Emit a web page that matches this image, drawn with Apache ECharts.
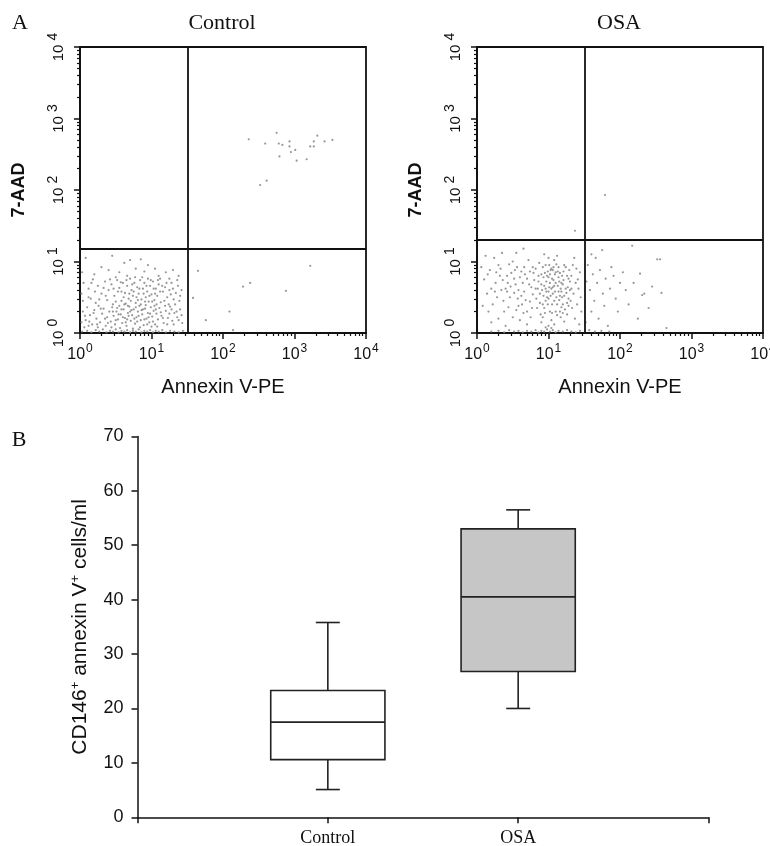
<!DOCTYPE html>
<html><head><meta charset="utf-8">
<script src="https://cdn.jsdelivr.net/npm/echarts@6/dist/echarts.min.js"></script>
<style>html,body{margin:0;padding:0;background:#fff}#c{width:770px;height:846px}</style>
</head><body><div id="c"></div>
<script>
// ---------- Panel A: flow cytometry (values in log10 decades) ----------
const panelTitles = ['Control', 'OSA'];
const xAxisTitle = 'Annexin V-PE';
const yAxisTitle = '7-AAD';
const decadeTicks = [0, 1, 2, 3, 4];
const minorMultipliers = [2, 3, 4, 5, 6, 7, 8, 9];
const controlGate = [1.50, 1.175];   // [annexin gate, 7-AAD gate] in log10
const osaGate = [1.505, 1.31];

const controlPoints = [
// lower-left upper part
[0.08,1.05],[0.45,1.08],[0.62,0.98],[0.70,1.02],[0.85,1.03],[0.95,0.95],[1.05,0.90],[0.30,0.92],[0.40,0.88],[0.55,0.85],
[0.78,0.90],[0.90,0.86],[1.20,0.85],[1.30,0.88],[1.38,0.80],[0.20,0.82],[0.66,0.80],[1.10,0.80],[0.50,0.78],[1.25,0.76],
// lower-left middle
[0.05,0.70],[0.12,0.62],[0.18,0.75],[0.25,0.66],[0.30,0.55],[0.35,0.72],[0.40,0.60],[0.44,0.68],[0.48,0.52],[0.52,0.74],
[0.55,0.63],[0.58,0.45],[0.60,0.70],[0.63,0.56],[0.66,0.66],[0.68,0.48],[0.70,0.76],[0.72,0.60],[0.74,0.52],[0.76,0.70],
[0.78,0.42],[0.80,0.64],[0.82,0.55],[0.84,0.74],[0.86,0.47],[0.88,0.62],[0.90,0.70],[0.92,0.50],[0.94,0.58],[0.96,0.44],
[0.98,0.66],[1.00,0.54],[1.02,0.72],[1.04,0.46],[1.06,0.62],[1.08,0.52],[1.10,0.68],[1.13,0.43],[1.16,0.58],[1.19,0.64],
[1.22,0.50],[1.25,0.60],[1.28,0.70],[1.31,0.47],[1.34,0.56],[1.37,0.66],[1.40,0.52],[0.15,0.48],[0.22,0.42],[0.38,0.46],
[0.46,0.40],[0.64,0.41],[0.87,0.78],[1.12,0.76],[0.58,0.58],[0.73,0.68],[0.95,0.76],[1.03,0.62],[0.81,0.46],[0.69,0.55],
[0.12,0.50],[0.16,0.70],[0.21,0.58],[0.27,0.47],[0.33,0.63],[0.36,0.52],[0.42,0.75],[0.47,0.62],[0.50,0.44],[0.53,0.58],
[0.57,0.71],[0.61,0.50],[0.65,0.74],[0.67,0.38],[0.71,0.45],[0.75,0.58],[0.77,0.78],[0.79,0.50],[0.83,0.62],[0.85,0.40],
[0.89,0.55],[0.91,0.44],[0.93,0.66],[0.97,0.52],[0.99,0.74],[1.01,0.44],[1.05,0.55],[1.07,0.40],[1.09,0.74],[1.12,0.58],
[1.15,0.66],[1.18,0.45],[1.21,0.70],[1.24,0.40],[1.27,0.54],[1.30,0.62],[1.33,0.40],[1.36,0.74],[1.39,0.45],[1.42,0.60],
// lower-left lower part
[0.04,0.30],[0.08,0.18],[0.10,0.36],[0.14,0.25],[0.17,0.12],[0.20,0.32],[0.23,0.20],[0.26,0.38],[0.28,0.15],[0.31,0.27],
[0.33,0.34],[0.36,0.10],[0.38,0.22],[0.41,0.30],[0.43,0.16],[0.45,0.36],[0.47,0.24],[0.49,0.12],[0.51,0.30],[0.53,0.19],
[0.55,0.38],[0.57,0.26],[0.59,0.14],[0.61,0.33],[0.63,0.21],[0.65,0.10],[0.67,0.28],[0.69,0.37],[0.71,0.17],[0.73,0.25],
[0.75,0.33],[0.77,0.13],[0.79,0.22],[0.81,0.30],[0.83,0.38],[0.85,0.18],[0.87,0.26],[0.89,0.11],[0.91,0.34],[0.93,0.20],
[0.95,0.28],[0.97,0.15],[0.99,0.36],[1.01,0.23],[1.03,0.31],[1.05,0.12],[1.07,0.27],[1.09,0.19],[1.11,0.35],[1.14,0.24],
[1.17,0.14],[1.20,0.31],[1.23,0.21],[1.26,0.37],[1.29,0.17],[1.32,0.28],[1.36,0.22],[1.40,0.33],[1.43,0.14],[0.62,0.40],
[0.84,0.08],[0.92,0.39],[1.00,0.09],[0.74,0.06],[0.56,0.07],[0.44,0.08],[0.70,0.30],[0.88,0.33],[0.96,0.22],[0.80,0.16],
[1.04,0.38],[0.66,0.19],[0.52,0.35],
[0.07,0.24],[0.13,0.16],[0.19,0.28],[0.24,0.12],[0.29,0.34],[0.35,0.20],[0.39,0.14],[0.46,0.30],[0.50,0.18],[0.54,0.26],
[0.58,0.33],[0.60,0.22],[0.64,0.15],[0.68,0.24],[0.72,0.32],[0.76,0.20],[0.78,0.36],[0.82,0.24],[0.86,0.32],[0.90,0.19],
[0.94,0.12],[0.98,0.27],[1.02,0.16],[1.06,0.33],[1.08,0.09],[1.13,0.29],[1.16,0.21],[1.19,0.38],[1.22,0.12],[1.25,0.27],
[1.28,0.33],[1.31,0.12],[1.35,0.30],[1.38,0.18],[1.42,0.25],
// bottom band
[0.03,0.02],[0.10,0.03],[0.16,0.01],[0.22,0.04],[0.27,0.02],[0.32,0.05],[0.37,0.01],[0.42,0.03],[0.46,0.02],[0.50,0.05],
[0.54,0.01],[0.58,0.03],[0.62,0.02],[0.66,0.04],[0.70,0.01],[0.74,0.03],[0.78,0.02],[0.82,0.05],[0.86,0.01],[0.90,0.03],
[0.94,0.02],[0.98,0.04],[1.02,0.01],[1.06,0.03],[1.10,0.02],[1.15,0.04],[1.20,0.01],[1.26,0.03],[1.32,0.02],[1.38,0.01],
[1.44,0.03],[0.06,0.08],[0.12,0.10],[0.25,0.08],[0.04,0.45],[0.02,0.15],[0.03,0.85],[0.02,0.55],
// lower-right
[1.65,0.87],[1.58,0.49],[1.76,0.18],[2.28,0.65],[2.38,0.70],[2.88,0.59],[3.22,0.94],[2.09,0.30],[2.14,0.04],
// upper-right
[2.36,2.71],[2.59,2.65],[2.75,2.80],[2.78,2.65],[2.83,2.63],[2.93,2.68],[2.93,2.61],[2.95,2.53],[3.01,2.56],[2.79,2.47],
[3.03,2.41],[3.17,2.43],[3.22,2.61],[3.27,2.61],[3.27,2.68],[3.32,2.76],[3.42,2.68],[3.53,2.70],[2.52,2.07],[2.61,2.13]
];

const osaPoints = [
// dense centre of lower-left
[0.82,0.90],[0.86,0.72],[0.88,0.55],[0.90,0.82],[0.92,0.40],[0.94,0.66],[0.96,0.95],[0.98,0.50],[1.00,0.78],[1.02,0.30],
[1.04,0.62],[1.06,0.88],[1.08,0.45],[1.10,0.70],[1.12,0.25],[1.14,0.58],[1.16,0.84],[1.18,0.36],[1.20,0.68],[1.22,0.52],
[1.24,0.92],[1.26,0.42],[1.28,0.76],[1.30,0.60],[0.84,0.35],[0.87,0.98],[0.91,0.60],[0.95,0.28],[0.99,0.86],[1.03,0.52],
[1.07,0.74],[1.11,0.96],[1.15,0.46],[1.19,0.80],[1.23,0.33],[1.27,0.64],[0.85,0.62],[0.89,0.26],[0.93,0.78],[0.97,0.58],
[1.01,0.95],[1.05,0.40],[1.09,0.82],[1.13,0.66],[1.17,0.22],[1.21,0.86],[1.25,0.56],[1.29,0.88],[0.83,0.48],[0.97,0.72],
[1.01,0.64],[1.05,0.76],[1.09,0.58],[1.13,0.86],[1.03,0.88],[0.95,0.84],[1.07,0.92],[1.11,0.50],[0.99,0.40],[1.17,0.62],
[1.21,0.74],[0.93,0.52],[1.15,0.72],[1.19,0.50],[1.00,1.05],[1.08,1.02],[0.94,1.10],[1.12,1.08],[1.04,0.18],[1.16,0.30],
[0.90,0.15],[1.08,0.12],[1.22,0.16],[1.26,0.26],
[0.86,0.80],[0.88,0.42],[0.90,0.68],[0.92,0.92],[0.94,0.35],[0.96,0.62],[0.98,0.80],[1.00,0.48],[1.02,0.70],[1.04,0.90],
[1.06,0.55],[1.08,0.66],[1.10,0.85],[1.12,0.40],[1.14,0.78],[1.16,0.52],[1.18,0.70],[1.20,0.40],[1.22,0.95],[1.24,0.62],
[1.26,0.80],[1.28,0.48],[1.30,0.72],[1.02,0.82],[1.06,0.64],[1.10,0.30],[1.14,0.92],[1.18,0.58],[0.96,0.45],[1.00,0.58],
// wider spread of lower-left
[0.10,0.75],[0.14,0.55],[0.18,0.88],[0.22,0.40],[0.26,0.70],[0.30,0.95],[0.34,0.60],[0.38,0.30],[0.42,0.80],[0.46,0.50],
[0.50,1.00],[0.54,0.68],[0.58,0.38],[0.62,0.86],[0.66,0.58],[0.70,0.76],[0.74,0.44],[0.78,0.92],[0.16,0.30],[0.24,1.05],
[0.32,0.80],[0.40,0.62],[0.48,0.84],[0.56,0.92],[0.64,0.70],[0.72,1.02],[0.76,0.64],[0.20,0.62],[0.28,0.50],[0.36,0.74],
[0.44,0.36],[0.52,0.56],[0.60,0.78],[0.68,0.46],[0.12,1.08],[0.06,0.92],[0.08,0.38],[0.35,1.12],[0.55,1.12],[0.65,1.18],
[0.45,0.96],[0.58,0.60],[0.70,0.30],[0.74,0.86],[0.62,0.52],[0.52,0.76],[0.42,0.58],[0.66,0.92],[0.78,0.54],[0.80,0.74],
[0.30,0.20],[0.50,0.22],[0.60,0.18],[0.70,0.12],[0.40,0.10],[0.20,0.15],[0.55,0.32],[0.65,0.28],[0.75,0.22],
[0.15,0.82],[0.25,0.58],[0.33,0.90],[0.43,0.70],[0.53,0.88],[0.63,0.40],[0.73,0.68],[0.79,0.84],[0.47,0.65],[0.57,0.48],
[0.67,0.82],[0.37,0.45],[0.27,0.85],[0.77,0.35],[0.82,0.62],[1.20,0.28],[1.28,0.38],[1.32,0.62],[1.05,0.28],[0.92,0.22],
// right edge of lower-left
[1.32,0.80],[1.35,0.55],[1.38,0.70],[1.40,0.40],[1.42,0.62],[1.44,0.85],[1.46,0.30],[1.34,0.95],[1.37,0.20],[1.41,0.75],
[1.45,0.50],[1.33,0.35],[1.39,0.90],[1.43,0.12],[1.36,1.05],[1.31,0.45],
// bottom band
[0.20,0.02],[0.30,0.03],[0.38,0.01],[0.45,0.04],[0.52,0.02],[0.58,0.03],[0.64,0.01],[0.70,0.03],[0.76,0.02],[0.82,0.04],
[0.86,0.01],[0.90,0.03],[0.94,0.02],[0.98,0.05],[1.02,0.02],[1.06,0.04],[1.10,0.01],[1.14,0.03],[1.20,0.02],[1.26,0.04],
[1.32,0.02],[1.38,0.01],[1.44,0.03],[0.96,0.08],[1.00,0.10],[1.04,0.07],
// lower-right
[1.55,0.95],[1.58,0.60],[1.60,0.30],[1.62,0.82],[1.64,0.45],[1.66,1.05],[1.68,0.70],[1.70,0.20],[1.72,0.88],[1.75,1.16],
[1.76,0.55],[1.78,0.38],[1.80,0.76],[1.83,0.10],[1.86,0.62],[1.88,0.92],[1.91,0.80],[1.94,0.48],[1.97,0.30],[2.00,0.70],
[2.04,0.85],[2.08,0.60],[2.12,0.40],[2.17,1.22],[2.19,0.70],[2.25,0.20],[2.28,0.83],[2.31,0.53],[2.34,0.55],[2.40,0.35],
[2.45,0.65],[2.52,1.03],[2.56,1.03],[2.58,0.56],[2.65,0.07],[1.52,0.15],[1.57,0.04],[1.65,0.02],[1.74,0.03],[1.85,0.02],
[1.60,1.10],[1.53,0.72],
// upper quadrants
[1.37,1.43],[1.79,1.93]
];

// ---------- Panel B: box plot ----------
const boxCategories = ['', 'Control', 'OSA', ''];
const boxYTitle = 'CD146{s|+} annexin V{s|+} cells/ml';
const boxYMin = 0, boxYMax = 70, boxYStep = 10;
// [min, Q1, median, Q3, max]
const controlBox = [5.1, 10.6, 17.5, 23.3, 35.8];
const osaBox = [20.0, 26.8, 40.5, 53.0, 56.5];

const minorTickValues = [];
for (let d = 0; d < 4; d++) minorMultipliers.forEach(m => minorTickValues.push(d + Math.log10(m)));

const BLACK = '#111';
const sans = 'Liberation Sans, Arial, Helvetica, sans-serif';
const serif = 'Liberation Serif, Times New Roman, serif';

const scatterGrids = [
  {left: 80, top: 47, width: 286, height: 286},
  {left: 477, top: 47, width: 286, height: 286}
];

const grids = scatterGrids.map(g => Object.assign({show: true, borderColor: BLACK, borderWidth: 1.8,
  backgroundColor: 'transparent', outerBoundsMode: 'none', containLabel: false}, g));
grids.push({left: 137.5, top: 436.4, width: 571, height: 380.9, outerBoundsMode: 'none', containLabel: false});

const xAxes = [], yAxes = [];
scatterGrids.forEach((g, i) => {
  xAxes.push({
    gridIndex: i, type: 'value', min: 0, max: 4, interval: 1, position: 'bottom',
    axisLine: {show: true, lineStyle: {color: BLACK, width: 1.8}},
    axisTick: {show: true, inside: false, length: 6, lineStyle: {color: BLACK, width: 1.5}},
    splitLine: {show: false},
    axisLabel: {
      margin: 10, color: BLACK,
      formatter: v => '{b|10}{s|' + v + '}',
      rich: {b: {fontFamily: sans, fontSize: 16, color: BLACK, verticalAlign: 'bottom'},
             s: {fontFamily: sans, fontSize: 12, color: BLACK, verticalAlign: 'bottom', padding: [0, 0, 8, 1]}}
    },
    name: xAxisTitle, nameLocation: 'middle', nameGap: 44,
    nameTextStyle: {fontFamily: sans, fontSize: 20, color: BLACK}
  });
  xAxes.push({
    gridIndex: i, type: 'value', min: 0, max: 4, position: 'bottom',
    axisLine: {show: false},
    axisTick: {show: true, length: 3, customValues: minorTickValues, lineStyle: {color: BLACK, width: 1.2}},
    axisLabel: {show: false}, splitLine: {show: false}
  });
  yAxes.push({
    gridIndex: i, type: 'value', min: 0, max: 4, interval: 1, position: 'left',
    axisLine: {show: true, lineStyle: {color: BLACK, width: 1.8}},
    axisTick: {show: true, inside: false, length: 6, lineStyle: {color: BLACK, width: 1.5}},
    splitLine: {show: false},
    axisLabel: {
      rotate: 90, margin: 14, color: BLACK,
      formatter: v => '{b|10 }{s|' + v + '}',
      rich: {b: {fontFamily: sans, fontSize: 15, color: BLACK, verticalAlign: 'bottom'},
             s: {fontFamily: sans, fontSize: 14, color: BLACK, verticalAlign: 'bottom', padding: [0, 0, 6, 0]}}
    },
    name: yAxisTitle, nameLocation: 'middle', nameGap: 52, nameRotate: 90,
    nameTextStyle: {fontFamily: sans, fontSize: 18, fontWeight: 'bold', color: BLACK}
  });
  yAxes.push({
    gridIndex: i, type: 'value', min: 0, max: 4, position: 'left',
    axisLine: {show: false},
    axisTick: {show: true, length: 3, customValues: minorTickValues, lineStyle: {color: BLACK, width: 1.2}},
    axisLabel: {show: false}, splitLine: {show: false}
  });
});

xAxes.push({
  gridIndex: 2, type: 'category', data: boxCategories, boundaryGap: false,
  axisLine: {show: true, lineStyle: {color: BLACK, width: 1.5}},
  axisTick: {show: true, interval: 0, length: 6, lineStyle: {color: BLACK, width: 1.5}},
  axisLabel: {interval: 0, margin: 12, fontFamily: serif, fontSize: 18, color: BLACK},
  splitLine: {show: false}
});
yAxes.push({
  gridIndex: 2, type: 'value', min: boxYMin, max: boxYMax, interval: boxYStep,
  axisLine: {show: true, lineStyle: {color: BLACK, width: 1.5}},
  axisTick: {show: true, length: 6, lineStyle: {color: BLACK, width: 1.5}},
  axisLabel: {margin: 14, fontFamily: sans, fontSize: 18, color: BLACK},
  splitLine: {show: false},
  name: boxYTitle, nameLocation: 'middle', nameGap: 46, nameRotate: 90,
  nameTextStyle: {fontFamily: sans, fontSize: 21, color: BLACK,
    rich: {s: {fontFamily: sans, fontSize: 13, color: BLACK, verticalAlign: 'bottom', padding: [0, 0, 10, 0]}}}
});

function gateLines(gate) {
  return {
    silent: true, symbol: 'none', animation: false,
    label: {show: false},
    lineStyle: {color: BLACK, width: 1.8, type: 'solid'},
    data: [{xAxis: gate[0]}, {yAxis: gate[1]}]
  };
}

const dotStyle = {color: '#858585', opacity: 0.85};

const series = [
  {type: 'scatter', xAxisIndex: 0, yAxisIndex: 0, data: controlPoints, symbolSize: 2.2,
   itemStyle: dotStyle, silent: true, markLine: gateLines(controlGate)},
  {type: 'scatter', xAxisIndex: 2, yAxisIndex: 2, data: osaPoints, symbolSize: 2.2,
   itemStyle: dotStyle, silent: true, markLine: gateLines(osaGate)},
  {type: 'custom', xAxisIndex: 4, yAxisIndex: 4,
   encode: {x: 0, y: [1, 2, 3, 4, 5]},
   data: [
     {value: [1].concat(controlBox), itemStyle: {color: '#ffffff'}},
     {value: [2].concat(osaBox), itemStyle: {color: '#c6c6c6'}}
   ],
   renderItem: function (params, api) {
     const x = api.value(0);
     const p = [1, 2, 3, 4, 5].map(i => api.coord([x, api.value(i)]));
     const band = api.size([1, 0])[0];
     const hw = band * 0.3, cw = band * 0.063;
     const cx = p[2][0];
     const st = {stroke: '#222', lineWidth: 1.6, fill: null};
     return {type: 'group', children: [
       {type: 'line', shape: {x1: cx, y1: p[3][1], x2: cx, y2: p[4][1]}, style: st},
       {type: 'line', shape: {x1: cx - cw, y1: p[4][1], x2: cx + cw, y2: p[4][1]}, style: st},
       {type: 'line', shape: {x1: cx, y1: p[1][1], x2: cx, y2: p[0][1]}, style: st},
       {type: 'line', shape: {x1: cx - cw, y1: p[0][1], x2: cx + cw, y2: p[0][1]}, style: st},
       {type: 'rect', shape: {x: cx - hw, y: p[3][1], width: 2 * hw, height: p[1][1] - p[3][1]},
        style: {stroke: '#222', lineWidth: 1.6, fill: api.visual('color')}},
       {type: 'line', shape: {x1: cx - hw, y1: p[2][1], x2: cx + hw, y2: p[2][1]}, style: st}
     ]};
   }
  }
];

const graphic = [
  {type: 'text', x: 20, y: 23, style: {text: 'A', font: '22px ' + serif, fill: BLACK, textAlign: 'center', textVerticalAlign: 'middle'}},
  {type: 'text', x: 222, y: 23, style: {text: panelTitles[0], font: '22px ' + serif, fill: BLACK, textAlign: 'center', textVerticalAlign: 'middle'}},
  {type: 'text', x: 619, y: 23, style: {text: panelTitles[1], font: '22px ' + serif, fill: BLACK, textAlign: 'center', textVerticalAlign: 'middle'}},
  {type: 'text', x: 19, y: 440, style: {text: 'B', font: '22px ' + serif, fill: BLACK, textAlign: 'center', textVerticalAlign: 'middle'}}
];

const chart = echarts.init(document.getElementById('c'), null, {renderer: 'canvas'});
chart.setOption({
  backgroundColor: '#ffffff',
  animation: false,
  grid: grids,
  xAxis: xAxes,
  yAxis: yAxes,
  series: series,
  graphic: graphic
});
</script>
</body></html>
